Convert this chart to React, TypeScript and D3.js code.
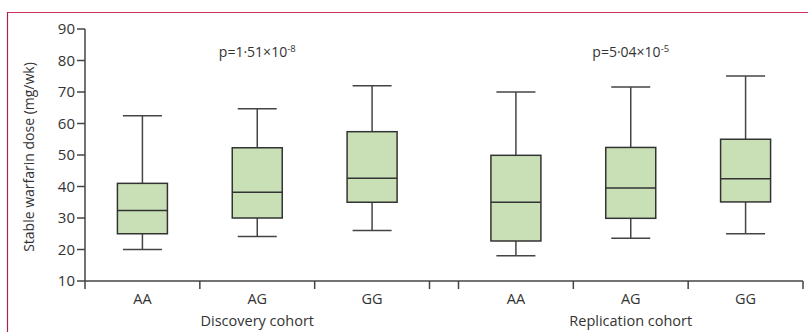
import * as d3 from 'd3';
import React from 'react';

// genotype groups and cohorts
const cohorts = ['Discovery cohort', 'Replication cohort'];
const genotypes = ['AA', 'AG', 'GG'];
const pValues = [
  { base: 'p=1·51×10', exp: '-8' },
  { base: 'p=5·04×10', exp: '-5' },
];

// box stats per cohort, in genotype order
const whiskerLow = [[20, 24.1, 26], [18, 23.6, 25]];
const q1 = [[25, 30, 35], [22.7, 29.9, 35.1]];
const median = [[32.4, 38.2, 42.6], [35, 39.5, 42.5]];
const q3 = [[41, 52.3, 57.4], [49.9, 52.4, 55]];
const whiskerHigh = [[62.5, 64.7, 72], [70, 71.6, 75.1]];

const yTicks = [10, 20, 30, 40, 50, 60, 70, 80, 90];

const W = 808, H = 332;
const margin = { top: 29, left: 85, right: 5, bottom: 51 };
const axisColor = '#444';
const textColor = '#333';
const font = "'Open Sans', sans-serif";

export default function App() {
  const y = d3.scaleLinear().domain([10, 90]).range([H - margin.bottom, margin.top]);
  const x0 = d3.scaleBand<string>()
    .domain(cohorts)
    .range([margin.left, W - margin.right])
    .paddingInner(0.0776)
    .paddingOuter(0);
  const x1 = d3.scaleBand<string>().domain(genotypes).range([0, x0.bandwidth()]);
  const boxW = 50, capW = 39, tick = 8;
  const yBase = y(10);

  return (
    <svg width={W} height={H} style={{ position: 'absolute', left: 0, top: 0 }} fontFamily={font}>
      <rect width={W} height={H} fill="#fff" />
      {/* frame */}
      <line x1={7} x2={W} y1={12.5} y2={12.5} stroke="#c9305a" strokeWidth={1.2} />
      <line x1={7.5} x2={7.5} y1={12} y2={H} stroke="#a8234c" strokeWidth={1.2} />

      {/* y axis */}
      <line x1={margin.left} x2={margin.left} y1={y(90)} y2={yBase + tick} stroke={axisColor} strokeWidth={1.5} />
      {yTicks.map(t => (
        <g key={t}>
          <line x1={margin.left - tick} x2={margin.left} y1={y(t)} y2={y(t)} stroke={axisColor} strokeWidth={1.5} />
          <text x={margin.left - 10} y={y(t)} dy="0.36em" textAnchor="end" fontSize={15} fill={textColor}>{t}</text>
        </g>
      ))}
      <text transform={`translate(34,${(y(10) + y(90)) / 2 + 2}) rotate(-90)`} textAnchor="middle" fontSize={14} fill={textColor}>
        Stable warfarin dose (mg/wk)
      </text>

      {/* x axis */}
      <line x1={margin.left} x2={W - margin.right} y1={yBase} y2={yBase} stroke={axisColor} strokeWidth={1.5} />
      {cohorts.map((c, ci) => {
        const cx = x0(c)!;
        return (
          <g key={c}>
            {[0, 1, 2, 3].map(e => {
              const xe = cx + e * x1.step();
              if (ci === 0 && e === 0) return null;
              return <line key={e} x1={xe} x2={xe} y1={yBase} y2={yBase + tick} stroke={axisColor} strokeWidth={1.5} />;
            })}
            {genotypes.map(g => (
              <text key={g} x={cx + x1(g)! + x1.bandwidth() / 2} y={yBase + 23} textAnchor="middle" fontSize={14.5} fill={textColor}>{g}</text>
            ))}
            <text x={cx + x0.bandwidth() / 2} y={yBase + 45} textAnchor="middle" fontSize={14.5} fill={textColor}>{c}</text>
            <text x={cx + x0.bandwidth() / 2} y={57} textAnchor="middle" fontSize={14} fill={textColor}>
              {pValues[ci].base}
              <tspan dy={-5} fontSize={9.5}>{pValues[ci].exp}</tspan>
            </text>
            {genotypes.map((g, gi) => {
              const mx = cx + x1(g)! + x1.bandwidth() / 2;
              return (
                <g key={g}>
                  <line x1={mx} x2={mx} y1={y(whiskerHigh[ci][gi])} y2={y(q3[ci][gi])} stroke={axisColor} strokeWidth={1.5} />
                  <line x1={mx} x2={mx} y1={y(q1[ci][gi])} y2={y(whiskerLow[ci][gi])} stroke={axisColor} strokeWidth={1.5} />
                  <line x1={mx - capW / 2} x2={mx + capW / 2} y1={y(whiskerHigh[ci][gi])} y2={y(whiskerHigh[ci][gi])} stroke={axisColor} strokeWidth={1.5} />
                  <line x1={mx - capW / 2} x2={mx + capW / 2} y1={y(whiskerLow[ci][gi])} y2={y(whiskerLow[ci][gi])} stroke={axisColor} strokeWidth={1.5} />
                  <rect x={mx - boxW / 2} y={y(q3[ci][gi])} width={boxW} height={y(q1[ci][gi]) - y(q3[ci][gi])}
                    fill="#c9e0b6" stroke="#333" strokeWidth={1.5} />
                  <line x1={mx - boxW / 2} x2={mx + boxW / 2} y1={y(median[ci][gi])} y2={y(median[ci][gi])} stroke="#333" strokeWidth={1.5} />
                </g>
              );
            })}
          </g>
        );
      })}
    </svg>
  );
}
